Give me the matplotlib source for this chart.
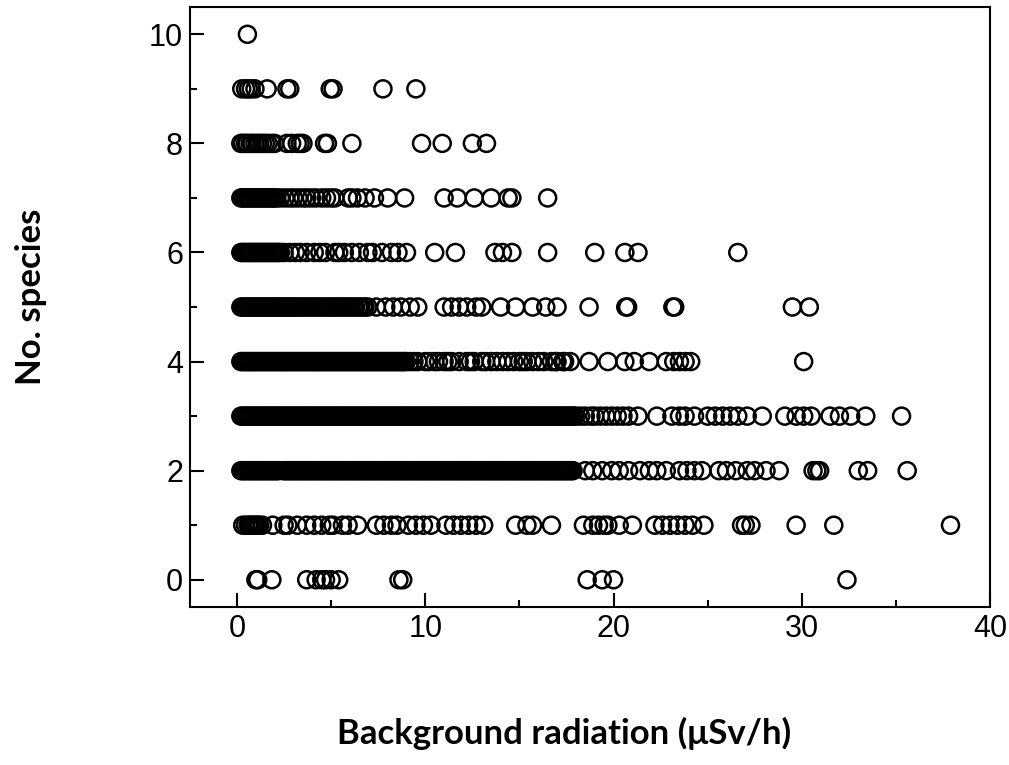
import numpy as np
import matplotlib.pyplot as plt
from matplotlib.ticker import MultipleLocator

# background radiation (uSv/h) for each site, grouped by number of species found
row0 = [1.0, 1.1, 1.85, 3.7, 4.2, 4.5, 4.7, 5.0, 5.4, 8.6, 8.8, 18.6, 19.4, 20.0, 32.4]

row1 = [0.3, 0.45, 0.6, 0.7, 0.8, 0.9, 1.0, 1.1, 1.2, 1.35, 1.9, 2.5, 2.7, 3.2, 3.7,
        4.1, 4.5, 4.9, 5.1, 5.6, 5.9, 6.4, 7.4, 7.8, 8.2, 8.5, 9.1, 9.5, 9.9, 10.3,
        11.1, 11.5, 11.9, 12.3, 12.7, 13.1, 14.8, 15.4, 15.7, 16.7, 18.4, 18.9, 19.2,
        19.5, 19.7, 20.3, 21.0, 22.2, 22.6, 23.0, 23.4, 23.8, 24.2, 24.8, 26.8, 27.0,
        27.3, 29.7, 31.7, 37.9]

row2 = [0.2, 0.3, 0.4, 0.5, 0.6, 0.7, 0.8, 0.9, 1.0, 1.1,
        1.2, 1.3, 1.4, 1.5, 1.6, 1.7, 1.8, 1.9, 2.0, 2.1,
        2.2, 2.45, 2.55, 2.65, 2.75, 2.85, 2.95, 3.05, 3.15, 3.25,
        3.35, 3.45, 3.55, 3.65, 3.75, 3.85, 3.95, 4.05, 4.15, 4.25,
        4.35, 4.45, 4.55, 4.65, 4.75, 4.85, 4.95, 5.05, 5.15, 5.25,
        5.35, 5.45, 5.55, 5.65, 5.75, 5.85, 5.95, 6.05, 6.15, 6.25,
        6.35, 6.45, 6.55, 6.65, 6.75, 6.85, 6.95, 7.05, 7.15, 7.25,
        7.35, 7.45, 7.55, 7.65, 7.75, 7.85, 7.95, 8.05, 8.15, 8.25,
        8.35, 8.45, 8.55, 8.65, 8.75, 8.85, 8.95, 9.05, 9.15, 9.25,
        9.35, 9.45, 9.55, 9.65, 9.75, 9.85, 9.95, 10.05, 10.15, 10.25,
        10.35, 10.45, 10.55, 10.65, 10.75, 10.85, 10.95, 11.05, 11.15, 11.25,
        11.35, 11.45, 11.55, 11.65, 11.75, 11.85, 11.95, 12.05, 12.15, 12.25,
        12.35, 12.45, 12.55, 12.65, 12.75, 12.85, 12.95, 13.05, 13.15, 13.25,
        13.35, 13.45, 13.55, 13.65, 13.75, 13.85, 13.95, 14.05, 14.15, 14.25,
        14.35, 14.45, 14.55, 14.65, 14.75, 14.85, 14.95, 15.05, 15.15, 15.25,
        15.35, 15.45, 15.55, 15.65, 15.75, 15.85, 15.95, 16.05, 16.15, 16.25,
        16.35, 16.45, 16.55, 16.65, 16.75, 16.85, 16.95, 17.05, 17.15, 17.25,
        17.35, 17.45, 17.55, 17.65, 17.75, 17.85,
        18.5, 18.9, 19.4, 19.9, 20.3, 20.8, 21.4, 21.9, 22.3, 22.8, 23.5, 23.9,
        24.3, 24.7, 25.6, 26.0, 26.5, 27.1, 27.5, 28.1, 28.8, 30.6, 30.8, 30.95,
        33.0, 33.5, 35.6]

row3 = [0.2, 0.3, 0.4, 0.5, 0.6, 0.7, 0.8, 0.9, 1.0, 1.1,
        1.2, 1.3, 1.4, 1.5, 1.6, 1.7, 1.8, 1.9, 2.0, 2.1,
        2.2, 2.3, 2.4, 2.5, 2.6, 2.7, 2.8, 2.9, 3.0, 3.1,
        3.2, 3.3, 3.4, 3.5, 3.6, 3.7, 3.8, 3.9, 4.0, 4.1,
        4.2, 4.3, 4.4, 4.5, 4.6, 4.7, 4.8, 4.9, 5.0, 5.1,
        5.2, 5.3, 5.4, 5.5, 5.6, 5.7, 5.8, 5.9, 6.0, 6.1,
        6.2, 6.3, 6.4, 6.5, 6.6, 6.7, 6.8, 6.9, 7.0, 7.1,
        7.2, 7.3, 7.4, 7.5, 7.6, 7.7, 7.8, 7.9, 8.0, 8.1,
        8.2, 8.3, 8.4, 8.5, 8.6, 8.7, 8.8, 8.9, 9.0, 9.1,
        9.2, 9.3, 9.4, 9.5, 9.6, 9.7, 9.8, 9.9, 10.0, 10.1,
        10.2, 10.3, 10.4, 10.5, 10.6, 10.7, 10.8, 10.9, 11.0, 11.1,
        11.2, 11.3, 11.4, 11.5, 11.6, 11.7, 11.8, 11.9, 12.0, 12.1,
        12.2, 12.3, 12.4, 12.5, 12.6, 12.7, 12.8, 12.9, 13.0, 13.1,
        13.2, 13.3, 13.4, 13.5, 13.6, 13.7, 13.8, 13.9, 14.0, 14.1,
        14.2, 14.3, 14.4, 14.5, 14.6, 14.7, 14.8, 14.9, 15.0, 15.1,
        15.2, 15.3, 15.4, 15.5, 15.6, 15.7, 15.8, 15.9, 16.0, 16.1,
        16.2, 16.3, 16.4, 16.5, 16.6, 16.7, 16.8, 16.9, 17.0, 17.1,
        17.2, 17.3, 17.4, 17.5, 17.6, 17.7, 17.8, 17.9, 18.0,
        18.25, 18.5, 18.8, 19.0, 19.3, 19.6, 19.9, 20.2, 20.5, 20.8, 21.3, 22.3,
        23.1, 23.5, 23.8, 24.3, 25.0, 25.4, 25.8, 26.2, 26.6, 27.1, 27.9, 29.1,
        29.7, 30.1, 30.5, 31.5, 32.0, 32.6, 33.4, 35.3]

row4 = [0.2, 0.3, 0.4, 0.5, 0.6, 0.7, 0.8, 0.9, 1.0, 1.1,
        1.2, 1.3, 1.4, 1.5, 1.6, 1.7, 1.8, 1.9, 2.0, 2.1,
        2.2, 2.3, 2.4, 2.5, 2.6, 2.7, 2.8, 2.9, 3.0, 3.1,
        3.2, 3.3, 3.4, 3.5, 3.6, 3.7, 3.8, 3.9, 4.0, 4.1,
        4.2, 4.3, 4.4, 4.5, 4.6, 4.7, 4.8, 4.9, 5.0, 5.1,
        5.2, 5.3, 5.4, 5.5, 5.6, 5.7, 5.8, 5.9, 6.0, 6.1,
        6.2, 6.3, 6.4, 6.5, 6.6, 6.7, 6.8, 6.9, 7.0, 7.1,
        7.2, 7.3, 7.4, 7.5, 7.6, 7.7, 7.8, 7.9, 8.0, 8.1,
        8.2, 8.3, 8.4, 8.5, 8.6, 8.7, 8.8, 8.9, 9.0,
        9.2, 9.4, 9.6, 10.0, 10.2, 10.5, 10.7, 11.0, 11.2, 11.4, 11.8, 12.2, 12.4,
        12.6, 13.0, 13.2, 13.5, 13.8, 14.1, 14.4, 14.7, 15.0, 15.2, 15.4, 15.7,
        16.0, 16.3, 16.7, 16.9, 17.0, 17.3, 17.4, 17.7, 18.7, 19.7, 20.6, 21.1,
        21.9, 22.8, 23.2, 23.5, 23.8, 24.1, 30.1]

row5 = [0.2, 0.3, 0.4, 0.5, 0.6, 0.7, 0.8, 0.9, 1.0, 1.1,
        1.2, 1.3, 1.4, 1.5, 1.6, 1.7, 1.8, 1.9, 2.0, 2.1,
        2.2, 2.3, 2.4, 2.5, 2.6, 2.7, 2.8, 2.9, 3.0, 3.1,
        3.2, 3.3, 3.45, 3.55, 3.7, 3.8, 3.95, 4.05, 4.2, 4.3,
        4.45, 4.55, 4.7, 4.8, 4.95, 5.05, 5.2, 5.3, 5.45, 5.55,
        5.7, 5.8, 5.95, 6.05, 6.2, 6.3, 6.45, 6.55, 6.7, 6.8, 6.95,
        7.4, 7.9, 8.3, 8.7, 9.2, 9.6, 11.0, 11.4, 11.8, 12.2, 12.7, 13.0,
        14.0, 14.8, 15.7, 16.4, 17.0, 18.7, 20.65, 20.75, 23.15, 23.25, 29.5, 30.4]

row6 = [0.2, 0.3, 0.4, 0.5, 0.6, 0.7, 0.8, 0.9, 1.0, 1.1, 1.2, 1.3, 1.4, 1.5, 1.6,
        1.7, 1.8, 1.9, 2.0, 2.1, 2.2, 2.3, 2.5, 2.8, 3.1, 3.35, 3.7, 4.1, 4.4, 4.7,
        5.2, 5.4, 5.7, 6.1, 6.5, 6.95, 7.2, 7.7, 8.2, 8.55, 9.0, 10.5, 11.6, 13.7,
        14.1, 14.6, 16.5, 19.0, 20.6, 21.3, 26.6]

row7 = [0.2, 0.3, 0.4, 0.5, 0.6, 0.7, 0.8, 0.9, 1.0, 1.1, 1.2, 1.3, 1.4, 1.5, 1.6,
        1.7, 1.8, 1.9, 2.0, 2.1, 2.3, 2.55, 2.8, 3.0, 3.25, 3.5, 3.7, 3.95, 4.2, 4.5,
        4.75, 5.0, 5.2, 5.9, 6.1, 6.4, 6.8, 7.3, 8.0, 8.9, 11.0, 11.7, 12.6, 13.5,
        14.4, 14.6, 16.5]

row8 = [0.2, 0.3, 0.45, 0.55, 0.7, 0.8, 0.95, 1.1, 1.2, 1.35, 1.5, 1.65, 1.85, 2.0,
        2.65, 2.9, 3.2, 3.35, 3.5, 4.65, 4.8, 6.1, 9.8, 10.9, 12.5, 13.25]

row9 = [0.25, 0.45, 0.6, 0.75, 0.95, 1.6, 2.65, 2.8, 4.95, 5.1, 7.75, 9.5]

row10 = [0.55]

rows = [row0, row1, row2, row3, row4, row5, row6, row7, row8, row9, row10]

x = np.concatenate([np.array(r, dtype=float) for r in rows])
y = np.concatenate([np.full(len(r), k) for k, r in enumerate(rows)])

fig = plt.figure(figsize=(10.09, 7.65), dpi=100)
ax = fig.add_axes([0.1883, 0.2065, 0.7929, 0.7843])

ax.scatter(x, y, s=150, facecolors='none', edgecolors='black', linewidths=1.8)

ax.set_xlim(-2.5, 40)
ax.set_ylim(-0.5, 10.5)
ax.xaxis.set_major_locator(MultipleLocator(10))
ax.xaxis.set_minor_locator(MultipleLocator(5))
ax.yaxis.set_major_locator(MultipleLocator(2))
ax.yaxis.set_minor_locator(MultipleLocator(1))

ax.tick_params(which='both', direction='in', width=1.5, top=False, right=False)
ax.tick_params(which='major', length=10, pad=5, labelsize=22)
ax.tick_params(which='minor', length=5)
for lab in ax.get_xticklabels() + ax.get_yticklabels():
    lab.set_fontfamily('Liberation Sans')
for sp in ax.spines.values():
    sp.set_linewidth(1.5)

fig.text(564 / 1009, 1 - 733 / 765, 'Background radiation (\u03bcSv/h)',
         family=['Lato', 'DejaVu Sans'], fontweight='bold', fontsize=25,
         ha='center', va='center')
fig.text(31 / 1009, 1 - 297 / 765, 'No. species',
         family=['Lato', 'DejaVu Sans'], fontweight='bold', fontsize=25,
         rotation=90, ha='center', va='center')

fig.savefig('out.png', dpi=100)
